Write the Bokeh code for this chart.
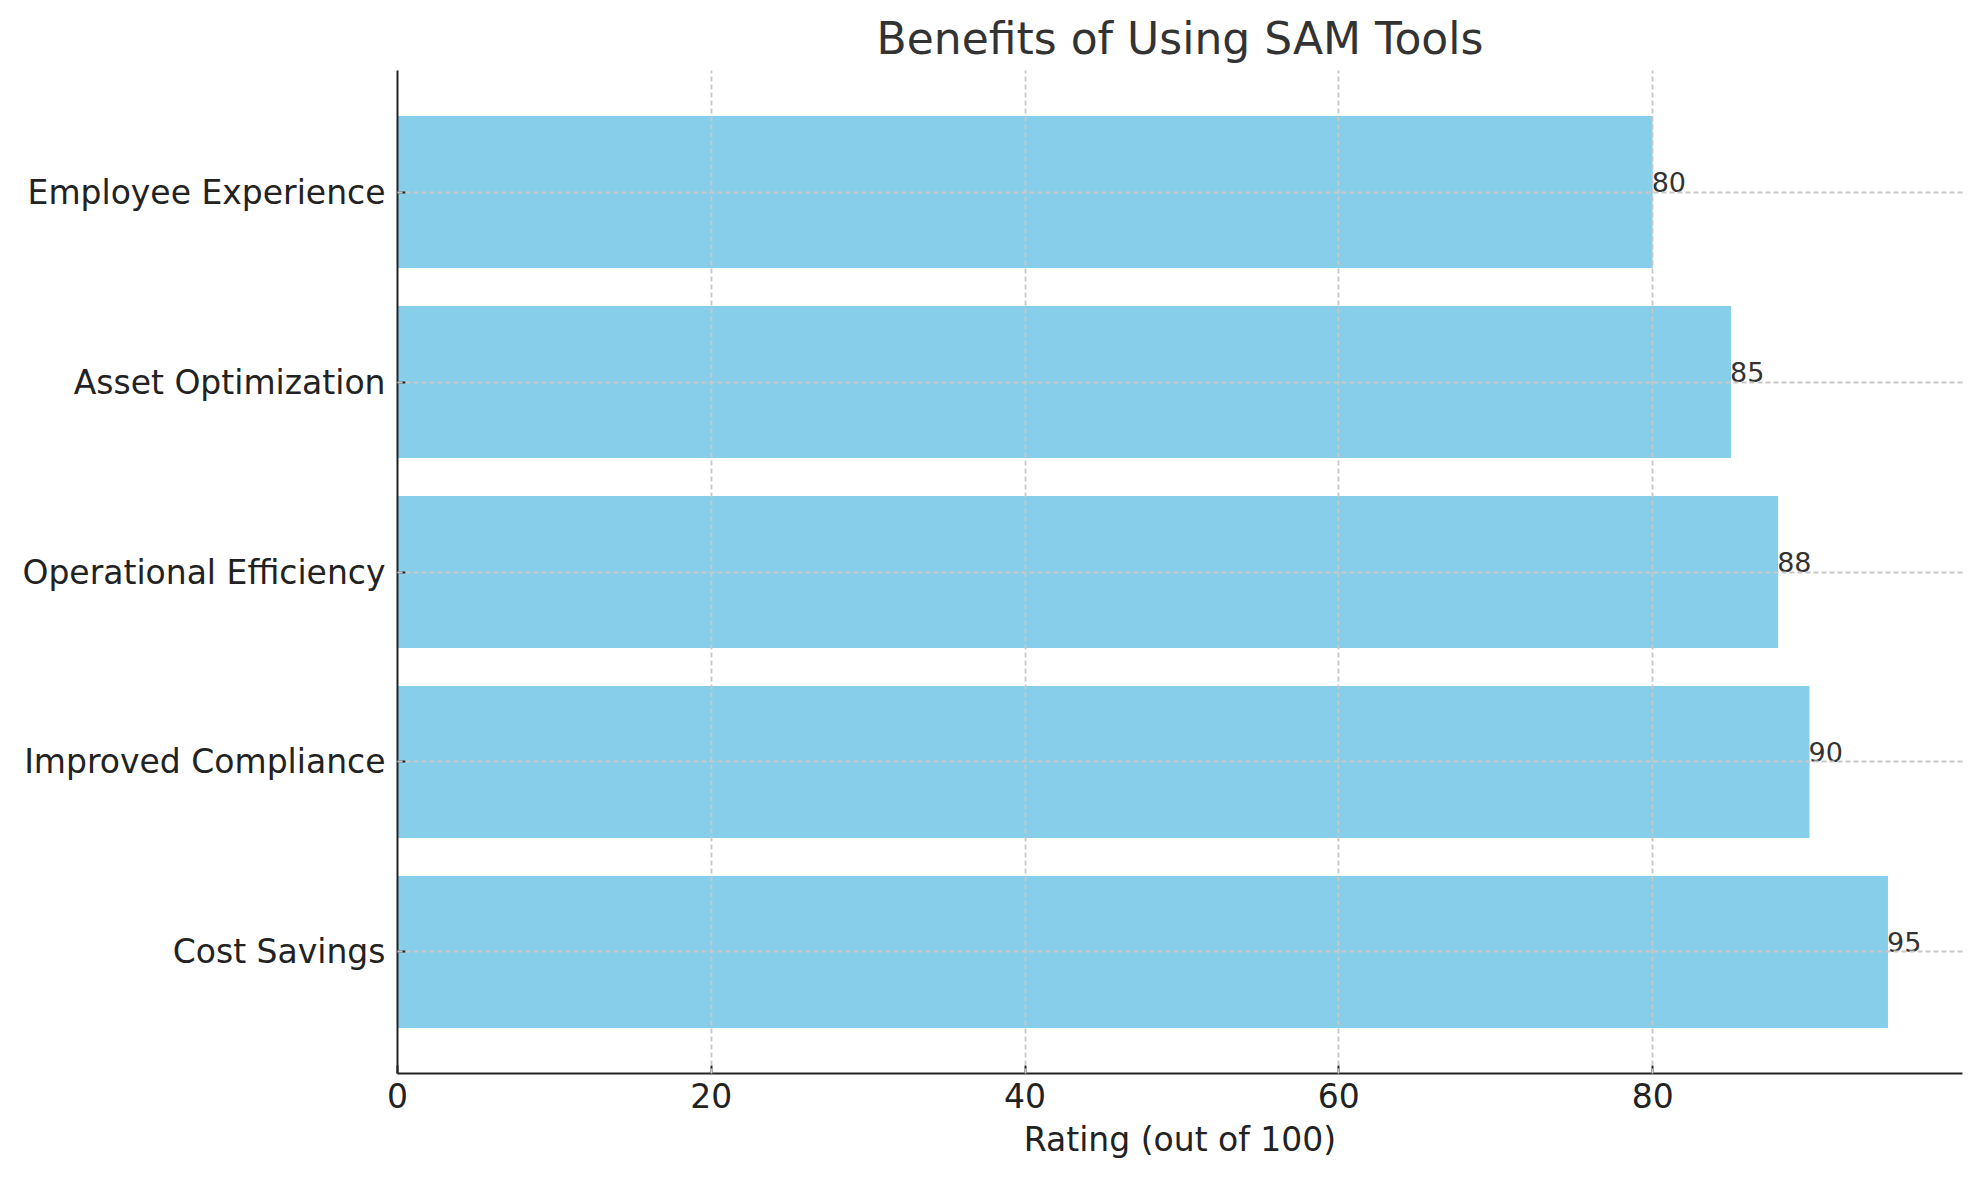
from bokeh.plotting import figure
from bokeh.models import Range1d, FixedTicker, ColumnDataSource
from bokeh.core.properties import value
from bokeh.embed import file_html
from bokeh.resources import INLINE

# Data (bottom to top)
categories = ["Cost Savings", "Improved Compliance", "Operational Efficiency",
              "Asset Optimization", "Employee Experience"]
ratings = [95, 90, 88, 85, 80]
x_ticks = [0, 20, 40, 60, 80]

positions = list(range(len(categories)))
src = ColumnDataSource(dict(
    y=positions,
    right=ratings,
    label=[str(v) for v in ratings],
))

FONT = "DejaVu Sans"

p = figure(
    frame_width=1565, frame_height=1003,
    x_range=Range1d(0, max(ratings) * 1.05),
    y_range=Range1d(-0.64, len(categories) - 1 + 0.64),
    output_backend="svg", toolbar_location=None,
    min_border_left=397, min_border_right=8,
    min_border_top=70, min_border_bottom=92,
    title="Benefits of Using SAM Tools",
)
p.outline_line_color = None
p.background_fill_color = "white"
p.border_fill_color = "white"

p.title.text_font = FONT
p.title.text_font_size = "44px"
p.title.text_font_style = "normal"
p.title.text_color = "#333333"
p.title.align = "center"
p.title.standoff = 14

p.hbar(y="y", left=0, right="right", height=0.8, source=src,
       fill_color="#87CEEB", line_color=None)

p.text(x="right", y="y", text="label", source=src,
       text_align="left", text_baseline="alphabetic",
       text_font=value(FONT), text_font_size="27px", text_color="#333333",
       x_offset=-1, y_offset=-10)

# Axes
xa = p.xaxis[0]
xa.ticker = FixedTicker(ticks=x_ticks)
xa.axis_label = "Rating (out of 100)"
ya = p.yaxis[0]
ya.ticker = FixedTicker(ticks=positions)
ya.major_label_overrides = {i: c for i, c in zip(positions, categories)}

for ax in (xa, ya):
    ax.axis_line_width = 2
    ax.axis_line_color = "#222222"
    ax.major_tick_line_width = 2
    ax.major_tick_line_color = "#222222"
    ax.major_tick_in = 8
    ax.major_tick_out = 0
    ax.minor_tick_line_color = None
    ax.major_label_text_font = FONT
    ax.major_label_text_font_size = "33px"
    ax.major_label_text_color = "#222222"
    ax.axis_label_text_font = FONT
    ax.axis_label_text_font_size = "33px"
    ax.axis_label_text_font_style = "normal"
    ax.axis_label_text_color = "#222222"

xa.major_label_standoff = 9
xa.axis_label_standoff = 9
ya.major_label_standoff = 12

# Grids (drawn above bars, dashed)
for g in (p.xgrid[0], p.ygrid[0]):
    g.grid_line_color = "#c8c8c8"
    g.grid_line_width = 1.8
    g.grid_line_dash = "5 3"
    g.level = "guide"
p.ygrid[0].ticker = FixedTicker(ticks=positions)

open("out.html", "w").write(file_html(p, INLINE))
